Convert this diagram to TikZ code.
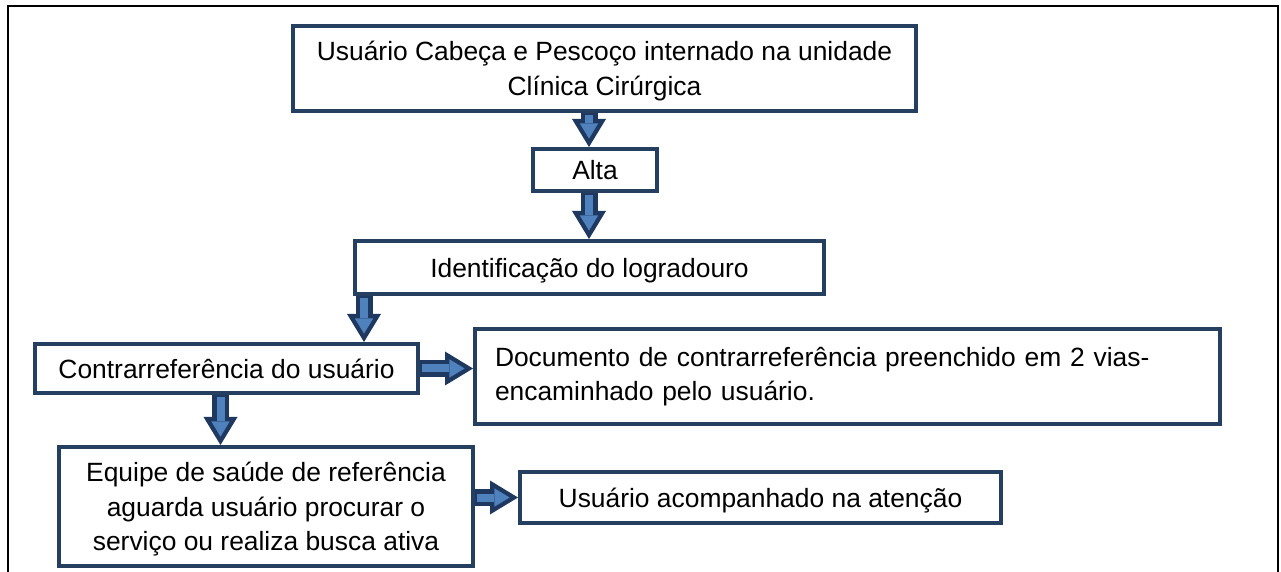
\documentclass[tikz,border=0pt]{standalone}
\usepackage{fontspec}
\setmainfont{Liberation Sans}
\usetikzlibrary{arrows.meta}
\definecolor{boxblue}{RGB}{36,63,96}
\definecolor{arrowdark}{RGB}{31,56,96}
\definecolor{arrowlight}{RGB}{79,129,189}
\newcommand{\boxfont}{\fontsize{13.2pt}{17.3pt}\selectfont}
\tikzset{
  box/.style={draw=boxblue, line width=2pt, fill=white, inner sep=0pt, text depth=0pt, align=center, font=\boxfont},
  blockarr/.style={draw=arrowlight, line width=4pt, shorten <=1pt, shorten >=4.2pt,
    -{Triangle[length=7.6pt, width=9.2pt, line width=0pt]},
    preaction={draw=arrowdark, line width=8.5pt, shorten <=0pt, shorten >=0pt,
      -{Triangle[length=14pt, width=17pt, line width=0pt]}}}
}
\begin{document}
\begin{tikzpicture}[x=0.5pt, y=-0.5pt]
\useasboundingbox (0,0) rectangle (1281,572);
\draw[black, line width=1pt] (8,572) -- (8,6) -- (1278,6) -- (1278,572);
\node[box, minimum width=311.5pt, minimum height=42.5pt] (top) at (604.5,68.5) {Usuário Cabeça e Pescoço internado na unidade\\Clínica Cirúrgica};
\node[box, minimum width=62pt, minimum height=21pt] (alta) at (595,170) {Alta};
\node[box, minimum width=234.5pt, minimum height=26.5pt] (ident) at (589.5,267.5) {Identificação do logradouro};
\node[box, minimum width=191.5pt, minimum height=24.5pt] (contra) at (226.5,368.5) {Contrarreferência do usuário};
\node[box, text depth={}, align=left, inner xsep=10pt, text width=352.5pt, minimum height=47.5pt] (doc) at (847.5,376.5) {Documento de contrarreferência preenchido em 2 vias-\\encaminhado pelo usuário.};
\node[box, minimum width=207pt, minimum height=59.5pt] (equipe) at (266,506.5) {Equipe de saúde de referência\\aguarda usuário procurar o\\serviço ou realiza busca ativa};
\node[box, minimum width=240.5pt, minimum height=25.5pt] (usu) at (760.5,497.5) {Usuário acompanhado na atenção};
\coordinate (a1) at ([xshift=-7.75pt]top.south);
\coordinate (a2) at ([xshift=-3pt]alta.south);
\coordinate (a3) at ([xshift=5.5pt]ident.south west);
\coordinate (a5) at ([xshift=-3pt]contra.south);
\draw[blockarr] (a1) -- (a1 |- alta.north);
\draw[blockarr] (a2) -- (a2 |- ident.north);
\draw[blockarr] (a3) -- (a3 |- contra.north);
\draw[blockarr] (contra.east) -- (contra.east -| doc.west);
\draw[blockarr] (a5) -- (a5 |- equipe.north);
\draw[blockarr] (usu.west -| equipe.east) -- (usu.west);
\end{tikzpicture}
\end{document}
